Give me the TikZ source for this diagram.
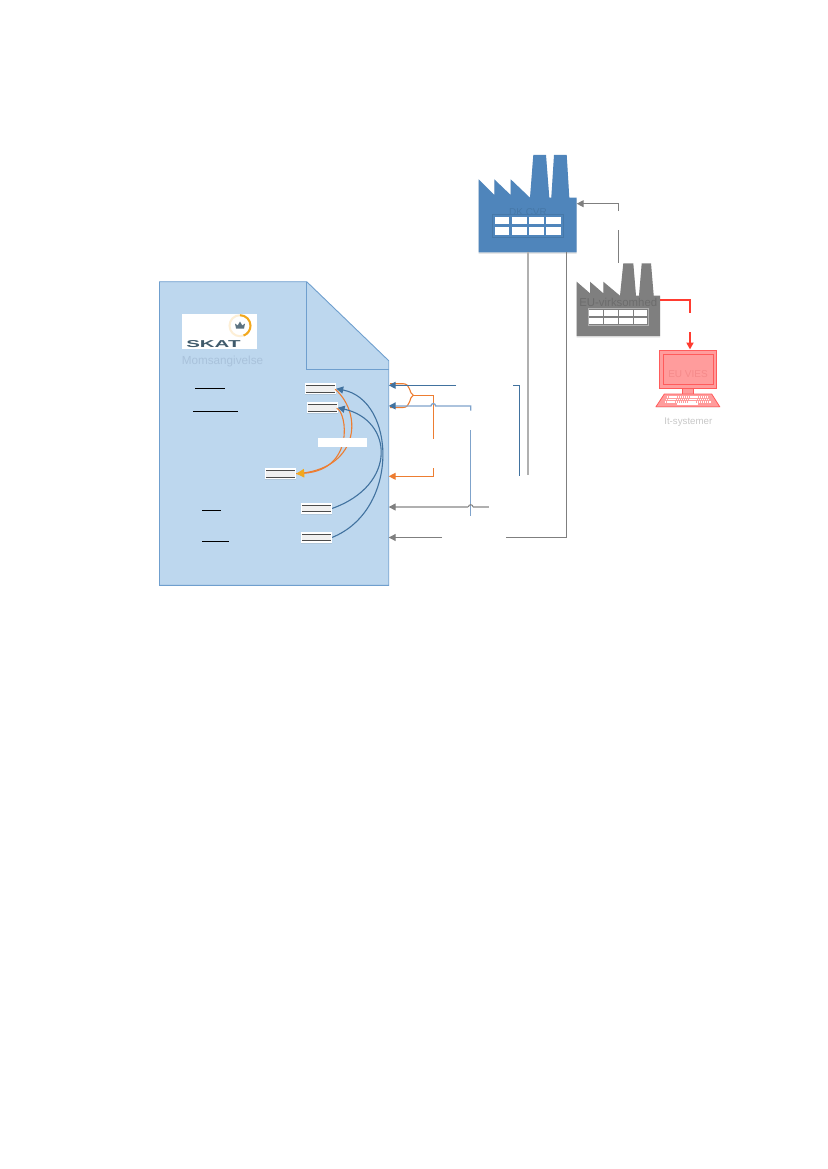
\documentclass[tikz,border=0pt]{standalone}
\usepackage{fontspec}
\setmainfont{Liberation Sans}
\definecolor{SDoc}{HTML}{BDD7EE}
\definecolor{SDocEdge}{HTML}{6F9FCE}
\definecolor{SDocText}{HTML}{A9C2DB}
\definecolor{SBlue}{HTML}{4F85BB}
\definecolor{SBlueDark}{HTML}{4678A8}
\definecolor{SBlueLine}{HTML}{41729F}
\definecolor{SBlueSoft}{HTML}{7FA3CB}
\definecolor{SOrange}{HTML}{ED7D31}
\definecolor{SGold}{HTML}{F2A81D}
\definecolor{SGrey}{HTML}{7F7F7F}
\definecolor{SGreySoft}{HTML}{B0B0B0}
\definecolor{SGreyDark}{HTML}{6C6C6C}
\definecolor{SRed}{HTML}{FF3B30}
\definecolor{SPink}{HTML}{FF9C9C}
\definecolor{SPinkEdge}{HTML}{FF5B5B}
\definecolor{SPinkText}{HTML}{F58A8A}
\definecolor{SSkat}{HTML}{3F5A6B}
\usepackage{tikz}
\usetikzlibrary{arrows.meta,calc,shadows}
\tikzset{
  fieldbox/.style={rectangle,minimum width=31pt,minimum height=10.7pt,inner sep=0pt,
    fill=white,drop shadow={shadow xshift=0pt,shadow yshift=-1pt,opacity=.18},
    path picture={
      \fill[white] (path picture bounding box.south west) rectangle (path picture bounding box.north east);
      \fill[black!6] ($(path picture bounding box.south west)+(1pt,2pt)$) rectangle ($(path picture bounding box.north east)+(-1pt,-2pt)$);
      \draw[black!70,line width=.8pt] ($(path picture bounding box.south west)+(1pt,2pt)$) -- ($(path picture bounding box.south east)+(-1pt,2pt)$);
      \draw[black!70,line width=.8pt] ($(path picture bounding box.north west)+(1pt,-2pt)$) -- ($(path picture bounding box.north east)+(-1pt,-2pt)$);
    }},
  softtext/.style={inner sep=0pt,font=\fontsize{#1}{#1}\selectfont},
  arrowin/.style={-{Triangle[length=7pt,width=7pt]}},
  arrowgrey/.style={-{Triangle[length=7pt,width=7pt,color=SGrey]}},
  arrowblue/.style={-{Triangle[length=7pt,width=7pt,color=SBlueLine]}},
  arrowgold/.style={-{Triangle[length=8pt,width=8.5pt,color=SGold]}},
  blueline/.style={draw=SBlueLine,line width=1.1pt},
  softline/.style={draw=SBlueSoft,line width=1pt},
  orangeline/.style={draw=SOrange,line width=1.1pt},
  greyline/.style={draw=SGrey,line width=1pt},
  redline/.style={draw=SRed,line width=1.8pt},
  factoryshadow/.style={drop shadow={shadow xshift=0pt,shadow yshift=-1.5pt,opacity=.2}}
}

\begin{document}
\begin{tikzpicture}[x=1pt,y=-1pt]
    \useasboundingbox (0,0) rectangle (827,1169);
    % declaration sheet
    \draw[fill=SDoc,draw=SDocEdge,line width=.9pt] (159.5,281.7) -- (306.7,281.7) -- (388.7,360.7)
      -- (388.7,585.3) -- (159.5,585.3) -- cycle;
    \draw[SDocEdge,line width=.9pt] (306.7,281.7) -- (306.7,369.3) -- (388.7,369.3);
    % logo
    \node[rectangle,fill=white,minimum width=75pt,minimum height=35pt,inner sep=0pt] (logo) at (219.5,331.5) {};
    \draw[color=SGold!18,line width=2pt] (240,325.7) circle (10.5);
    \draw[color=SGold,line width=2pt] (240,315.2) arc (-90:70:10.5);
    \fill[SSkat!85] (236,328.5) -- (235,323.5) -- (237.7,325.5) -- (240,321.5) -- (242.3,325.5) -- (245,323.5) -- (244,328.5) -- cycle;
    \node[softtext=10,text=SSkat,xscale=2.05,transform shape] (skat) at (213.4,344.5) {\textbf{SKAT}};
    \node[softtext=11.7,text=SDocText] (moms) at (222.5,361) {Momsangivelse};
    % underlined entries
    \foreach \xa/\xb/\yy in {195.3/225/388.3,193/238/411.3,202/221/510.3,202/229.3/541.3}
      \draw[black,line width=.9pt] (\xa,\yy) -- (\xb,\yy);
    % fields
    \node[fieldbox] (fieldA) at (320.5,388.7) {};
    \node[fieldbox] (fieldB) at (322,407.7) {};
    \node[fieldbox] (fieldC) at (280.5,473.7) {};
    \node[fieldbox] (fieldD) at (316.5,508.4) {};
    \node[fieldbox] (fieldE) at (316.5,537.4) {};
    % orange sums
    \draw[orangeline] (fieldA.east) ++(-1,0.5) .. controls (364,415) and (358,470) .. (fieldC.east);
    \draw[orangeline,arrowgold] (fieldB.east) ++(-1,0.5) .. controls (347,412) and (355,470) .. (fieldC.east);
    \node[rectangle,fill=white,minimum width=49pt,minimum height=9.5pt,inner sep=0pt] (sumlabel) at (342.5,442.4) {};
    % blue sums
    \draw[blueline,arrowin] (fieldE.east) .. controls (400,510) and (396,400) .. (fieldA.east);
    \draw[blueline,arrowin] (fieldD.east) .. controls (398,485) and (393,420) .. (fieldB.east);
    % factory DK
    \fill[SBlue,factoryshadow] (478.7,252.3) -- (478.7,179.3) -- (494.3,195) -- (494.3,179.3) -- (510.7,195)
      -- (510.7,179.3) -- (530,197.7) -- (533.3,155) -- (546,155) -- (549.3,197.7) -- (551.3,197.7)
      -- (554,155) -- (566.7,155) -- (569.3,197.7) -- (576.7,197.7) -- (576.7,252.3) -- cycle;
    \draw[SBlueDark,line width=.8pt] (492.7,214.5) rectangle (563,237.2);
    \foreach \xa/\xb in {495/509.3,511.7/526.7,528.7/544,545.7/561.3}
      \foreach \ya/\yb in {216.7/224.3,226.7/235.3}
        \fill[white] (\xa,\ya) rectangle (\xb,\yb);
    \node[softtext=10,text=SBlueDark] (dkcvr) at (528,211.7) {DK CVR};
    % factory EU
    \fill[SGrey,factoryshadow] (576.7,336) -- (576.7,281.7) -- (590,293.3) -- (590,281.7) -- (603.3,293.3)
      -- (603.3,281.7) -- (620,295.7) -- (623.3,263.3) -- (633.3,263.3) -- (636,295.7) -- (639,295.7)
      -- (641.7,263.3) -- (651,263.3) -- (653.7,295.7) -- (660,295.7) -- (660,336) -- cycle;
    \draw[SGreySoft,line width=.8pt] (588,308.2) rectangle (648,325.7);
    \foreach \xa/\xb in {589.3/603,604.3/617.7,619.3/632.7,634/647.3}
      \foreach \ya/\yb in {309.7/316.3,318/324}
        \fill[white] (\xa,\ya) rectangle (\xb,\yb);
    \node[softtext=11.4,text=SGreyDark] (euvirk) at (618.3,302.7) {EU-virksomhed};
    % computer
    \draw[fill=SPink,draw=SPinkEdge,line width=.8pt] (682.3,388.3) rectangle (693,394);
    \draw[fill=SPink,draw=SPinkEdge,line width=.8pt,drop shadow={shadow xshift=0pt,shadow yshift=-1pt,opacity=.15}] (664.3,394) -- (711.7,394) -- (719.7,406.7) -- (656,406.7) -- cycle;
    \draw[fill=SPink,draw=SPinkEdge,line width=1pt] (659.3,350) rectangle (716.7,388.3);
    \draw[SPinkEdge,line width=1pt] (663.7,354.3) rectangle (713.3,384.3);
    \foreach \xa/\xb/\yy in {667/708/396.8,666/710/399.4,665/711/402}
      \draw[white,line width=1.6pt,dash pattern=on 1.4pt off .7pt] (\xa,\yy) -- (\xb,\yy);
    \draw[white,line width=1.6pt] (677,404.2) -- (698,404.2);
    \node[softtext=10,text=SPinkText] (euvies) at (688,374) {EU VIES};
    \node[softtext=9.7,text=black!22] (itsys) at (688.3,422) {It-systemer};
    % sheet inputs
    \coordinate (inA) at (388.7,385.3);
    \coordinate (inB) at (388.7,405.9);
    \coordinate (inC) at (388.7,476.3);
    \coordinate (inD) at (388.7,507);
    \coordinate (inE) at (388.7,537.5);
    \coordinate (bracetip) at (413.3,395.3);
    \coordinate (orAend) at (433.3,439.3);
    \coordinate (orBend) at (433.3,468.3);
    \coordinate (blAend) at (456,385.3);
    \coordinate (blBtop) at (513.3,385.3);
    \coordinate (blBend) at (519.7,475.7);
    \coordinate (sfAend) at (470.7,410.7);
    \coordinate (sfBtop) at (470.7,430);
    \coordinate (sfBend) at (470.7,516);
    \coordinate (gyAend) at (489,507);
    \coordinate (gyBend) at (442,537.5);
    \coordinate (gyBtop) at (506,537.5);
    \coordinate (dkfootA) at (528,252.3);
    \coordinate (dkfootB) at (566.7,252.3);
    \coordinate (dkcheck) at (528,475);
    \coordinate (dkin) at (576.7,203.7);
    \coordinate (euoutA) at (618.3,211);
    \coordinate (euoutB) at (618.3,230);
    \coordinate (eutop) at (618.3,262.7);
    \coordinate (redA) at (660,299.7);
    \coordinate (redB) at (690,313.3);
    \coordinate (redC) at (690,332.3);
    \coordinate (screen) at (690,349.5);
    \draw[orangeline] (bracetip) .. controls (409,394) and (411,383.7) .. (403,383.7) -- (390,383.7);
    \draw[orangeline] (bracetip) .. controls (409,396.6) and (411,407.5) .. (403,407.5) -- (390,407.5);
    \draw[orangeline] (bracetip) -| (orAend);
    \draw[orangeline,arrowin] (orBend) |- (inC);
    \draw[blueline,arrowin] (blAend) -- (inA);
    \draw[blueline] (blBtop) -| (blBend);
    \draw[softline,line width=1.3pt,arrowblue] (sfAend) |- (435.6,405.9) arc (0:-180:2.3) -- (inB);
    \draw[softline] (sfBtop) -- (sfBend);
    \draw[draw=SGreySoft,line width=1.3pt] (gyAend) -- (473,507);
    \draw[SGrey,line width=1pt] (473,507) arc (0:-180:2.3);
    \draw[draw=SGreySoft,line width=1.3pt,arrowgrey] (468.4,507) -- (inD);
    \draw[greyline,arrowin] (gyBend) -- (inE);
    \draw[greyline] (gyBtop) -| (dkfootB);
    \draw[draw=SGreySoft,line width=1.3pt] (dkfootA) -- (dkcheck);
    \draw[greyline,arrowin] (euoutA) |- (dkin);
    \draw[greyline] (euoutB) -- (eutop);
    \draw[redline] (redA) -| (redB);
    \draw[redline,arrowin] (redC) -- (screen);
  \end{tikzpicture}
\end{document}
